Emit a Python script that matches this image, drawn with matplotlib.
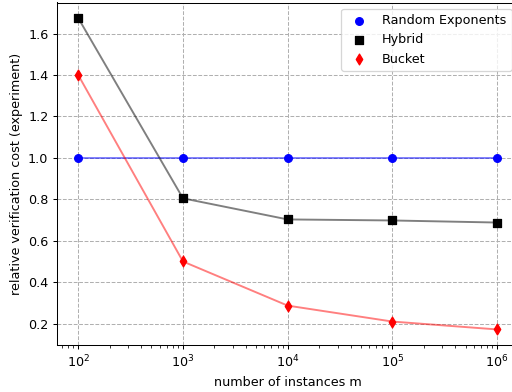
import matplotlib
matplotlib.use("Agg")
import matplotlib.pyplot as plt

m = [1e2, 1e3, 1e4, 1e5, 1e6]
random_exp = [1.0, 1.0, 1.0, 1.0, 1.0]
hybrid = [1.675, 0.805, 0.703, 0.698, 0.688]
bucket = [1.40, 0.50, 0.287, 0.21, 0.172]

DPI = 92
W, H = 512, 392
fig = plt.figure(figsize=(W / DPI, H / DPI), dpi=DPI)
ax = fig.add_axes([57.3 / W, 1 - 345 / H, (518 - 57.3) / W, (345 - 2.5) / H])

ax.plot(m, random_exp, color='blue', alpha=0.5, zorder=2)
ax.plot(m, hybrid, color='black', alpha=0.5, zorder=2)
ax.plot(m, bucket, color='red', alpha=0.5, zorder=2)
ax.scatter(m, random_exp, marker='o', color='blue', label='Random Exponents', zorder=3)
ax.scatter(m, hybrid, marker='s', color='black', label='Hybrid', zorder=3)
ax.scatter(m, bucket, marker='d', color='red', label='Bucket', zorder=3)

ax.set_xscale('log')
ax.set_xlabel('number of instances m')
ax.set_ylabel('relative verification cost (experiment)')
ax.grid(True, linestyle='--', color='#b0b0b0')
ax.set_axisbelow(True)
ax.legend(loc='upper right')

fig.savefig('out.png', dpi=DPI)
